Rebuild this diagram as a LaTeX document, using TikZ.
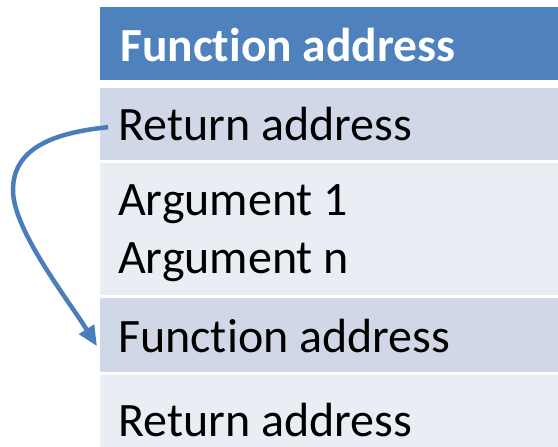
\documentclass[tikz,border=0pt]{standalone}
\usepackage{fontspec}
\setmainfont[Ligatures=NoCommon]{Carlito}
\usetikzlibrary{arrows.meta,calc}
\definecolor{headblue}{HTML}{4F81BD}
\definecolor{rowdark}{HTML}{D0D8E8}
\definecolor{rowlight}{HTML}{E9EDF4}
\definecolor{arrowblue}{HTML}{4A7EBB}
\tikzset{
  cell/.style={draw=none, inner sep=0pt, anchor=north west, minimum width=458pt},
  celltext/.style={inner sep=0pt, anchor=base west, font=\fontsize{48}{57}\selectfont},
  headtext/.style={celltext, font=\fontsize{47.5}{57}\selectfont\bfseries, text=white},
  link/.style={draw=arrowblue, line width=4.5pt, -{Triangle[length=20pt,width=17pt]}}
}
\begin{document}
\begin{tikzpicture}[x=1pt,y=-1pt]
  \useasboundingbox (0,0) rectangle (558,447);
  % table rows
  \node[cell, fill=headblue, minimum height=73pt] (hdr) at (100,7) {};
  \node[cell, fill=rowdark, minimum height=72pt] (ret) at (100,88) {};
  \node[cell, fill=rowlight, minimum height=132pt] (args) at (100,163) {};
  \node[cell, fill=rowdark, minimum height=74pt] (fun) at (100,298) {};
  \node[cell, fill=rowlight, minimum height=72pt] (ret2) at (100,375) {};
  % row texts
  \node[headtext] (thdr) at (120,61) {Function address};
  \node[celltext] (tret) at (118,140) {Return address};
  \node[celltext] (targ1) at (118,215) {Argument 1};
  \node[celltext] (targn) at (118,273) {Argument n};
  \node[celltext] (tfun) at (118,352) {Function address};
  \node[celltext] (tret2) at (118,436) {Return address};
  % return link
  \coordinate (src) at ($(ret.west)+(8,3)$);
  \coordinate (turn) at (13,190);
  \coordinate (dst) at ($(fun.west)+(-3,11)$);
  \draw[link] (src) .. controls (50,133) and (13,150) .. (turn)
                    .. controls (13,230) and (67,298) .. (dst);
\end{tikzpicture}
\end{document}
